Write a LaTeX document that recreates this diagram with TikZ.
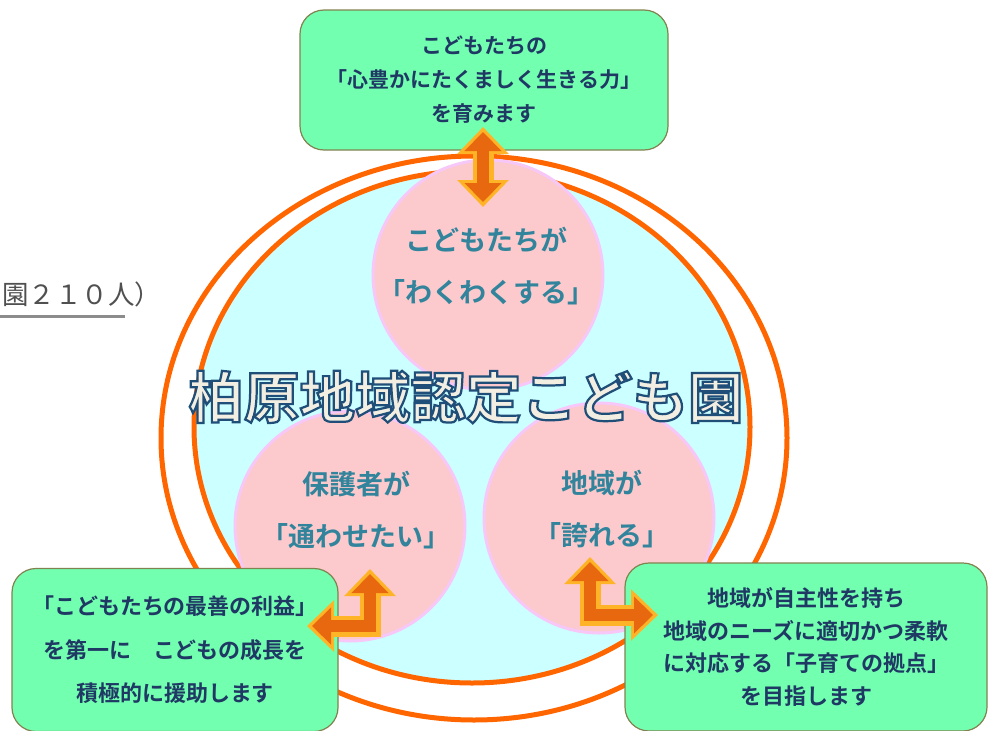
\documentclass[tikz,border=0pt]{standalone}
\usepackage{fontspec}
\setmainfont{Noto Sans CJK JP}[BoldFont=* Bold]
\newfontfamily\titlefont{Noto Sans CJK JP}[UprightFont=* Bold,FakeBold=4]
\usetikzlibrary{arrows.meta}
\definecolor{ringorange}{RGB}{255,102,0}
\definecolor{poolcyan}{RGB}{204,255,255}
\definecolor{petalpink}{RGB}{252,202,204}
\definecolor{petalrim}{RGB}{247,200,247}
\definecolor{petaltext}{RGB}{49,132,155}
\definecolor{boxgreen}{RGB}{115,255,176}
\definecolor{boxrim}{RGB}{130,130,80}
\definecolor{boxtext}{RGB}{31,56,100}
\definecolor{arroworange}{RGB}{232,104,15}
\definecolor{arrowyellow}{RGB}{255,180,40}
\definecolor{notegray}{RGB}{80,80,80}
\definecolor{rulegray}{RGB}{140,140,140}
% cream fill, dark blue stroke for the title
\newcommand{\titleink}{\special{pdf:bcolor [0.953 0.933 0.886] [0.122 0.306 0.475]}}
\newcommand{\titleinkoff}{\special{pdf:ecolor}}

\begin{document}
\begin{tikzpicture}[x=1pt,y=-1pt,
  ring/.style={draw=ringorange,line width=5pt},
  petal/.style={circle,fill=petalpink,draw=petalrim,line width=3pt,minimum size=230pt,inner sep=0pt},
  petaltxt/.style={text=petaltext,font=\fontsize{27}{52}\selectfont\bfseries,align=center},
  goalbox/.style={rectangle,rounded corners=24pt,fill=boxgreen,draw=boxrim,line width=1.2pt,text=boxtext,align=center},
  arrowrim/.style={draw=arrowyellow,line width=21pt,line join=miter,arrows={Triangle[width=50pt,length=27pt]-Triangle[width=50pt,length=27pt]}},
  arrowcore/.style={draw=arroworange,line width=12pt,line join=miter,shorten >=5pt,shorten <=5pt,arrows={Triangle[width=36pt,length=19pt]-Triangle[width=36pt,length=19pt]}}]
\useasboundingbox (0,0) rectangle (994,731);

% rings
\draw[ring,fill=white] (474,438) ellipse [x radius=313pt,y radius=282pt];
\draw[ring,fill=poolcyan] (472,427) ellipse [x radius=278pt,y radius=256pt];

% the three circles
\node[petal] (kids) at (488,275) {};
\node[petal] (parents) at (350,526) {};
\node[petal] (area) at (599,518) {};
\node[petaltxt] (kidstxt) at (486,266) {こどもたちが\\「わくわくする」};
\node[petaltxt] (parentstxt) at (356,510) {保護者が\\「通わせたい」};
\node[petaltxt] (areatxt) at (602,509) {地域が\\「誇れる」};

\node[font=\titlefont\fontsize{55.5}{55.5}\selectfont] (title) at (466,397) {\titleink 柏原地域認定こども園\titleinkoff};

% cut-off note at the left
\node[anchor=west,text=notegray,font=\fontsize{26.5}{26.5}\selectfont,inner sep=0pt] (count) at (2,294) {園２１０人）};
\coordinate (ruleL) at (0,316);
\coordinate (ruleR) at (125,316);
\draw[rulegray,line width=3pt] (ruleL) -- (ruleR);

% goals
\node[goalbox,minimum width=368pt,minimum height=140pt,font=\fontsize{21}{34}\selectfont\bfseries] (aim) at (484,80) {こどもたちの\\「心豊かにたくましく生きる力」\\を育みます};
\node[goalbox,minimum width=326pt,minimum height=163pt,font=\fontsize{22}{43.5}\selectfont\bfseries] (care) at (175,650) {「こどもたちの最善の利益」\\を第一に　こどもの成長を\\積極的に援助します};
\node[goalbox,minimum width=362pt,minimum height=168pt,font=\fontsize{22}{32.7}\selectfont\bfseries] (hub) at (806,647) {地域が自主性を持ち\\地域のニーズに適切かつ柔軟\\に対応する「子育ての拠点」\\を目指します};

% arrows
\coordinate (aimTip) at (483,127);
\coordinate (kidsTip) at (483,207);
\draw[arrowrim] (aimTip) -- (kidsTip);
\draw[arrowcore] (aimTip) -- (kidsTip);

\coordinate (parentsTip) at (370,569);
\coordinate (parentsBend) at (370,626);
\coordinate (careTip) at (307,626);
\draw[arrowrim] (parentsTip) -- (parentsBend) -- (careTip);
\draw[arrowcore] (parentsTip) -- (parentsBend) -- (careTip);

\coordinate (areaTip) at (590,557);
\coordinate (areaBend) at (590,615);
\coordinate (hubTip) at (658,615);
\draw[arrowrim] (areaTip) -- (areaBend) -- (hubTip);
\draw[arrowcore] (areaTip) -- (areaBend) -- (hubTip);
\end{tikzpicture}
\end{document}
